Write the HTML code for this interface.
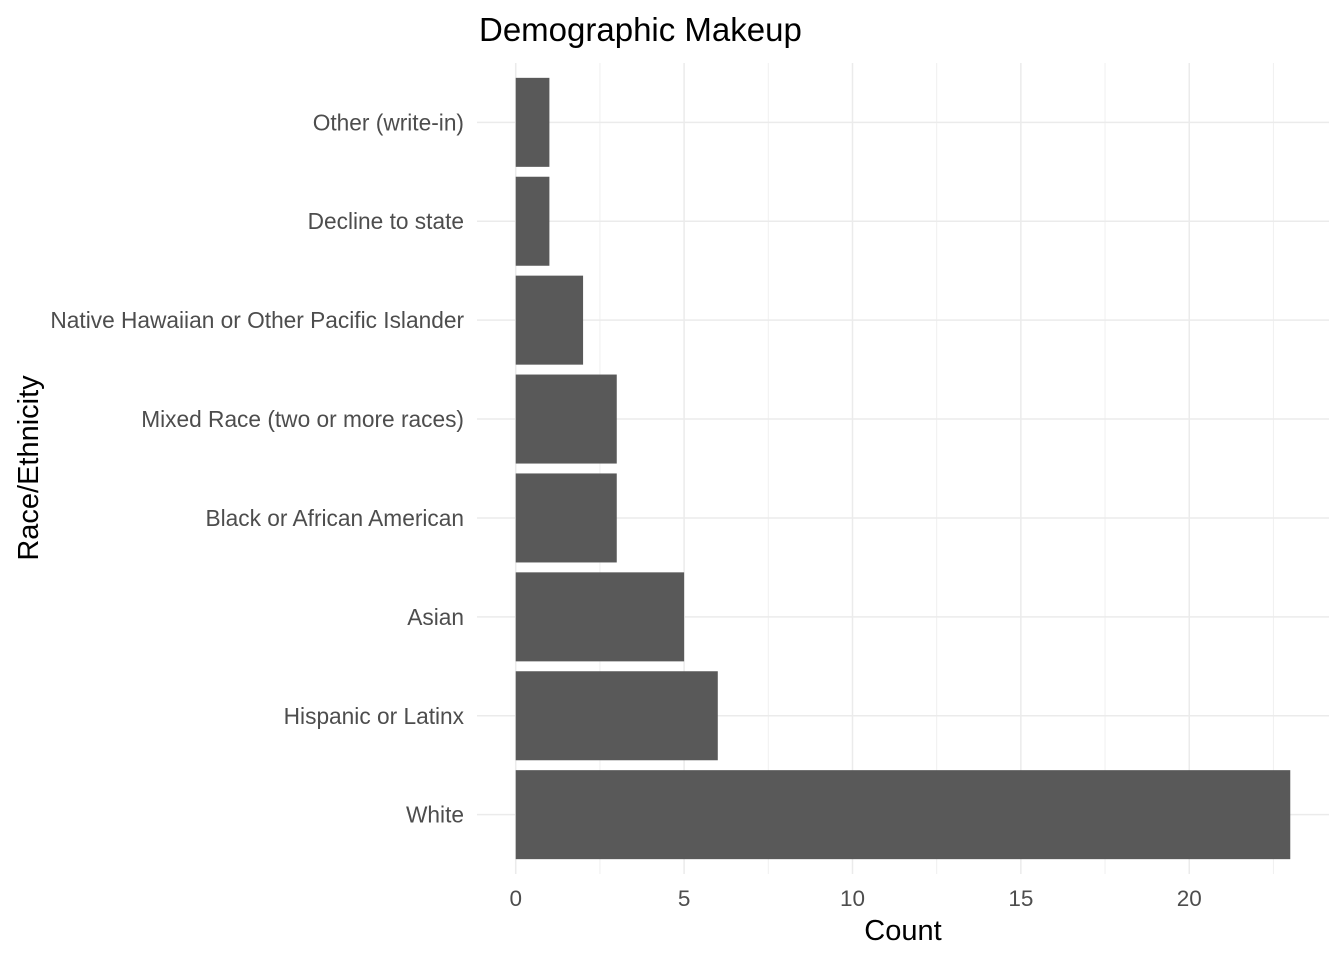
<!DOCTYPE html>
<html><head><meta charset="utf-8"><style>
body{margin:0;background:#fff;font-family:"Liberation Sans",Arial,sans-serif}
</style></head><body>
<svg id="chart" width="1344" height="960" xmlns="http://www.w3.org/2000/svg" font-family="Liberation Sans, Arial, sans-serif">
<text x="479" y="41" font-size="33" fill="#000">Demographic Makeup</text>
<text x="903" y="940" font-size="29" text-anchor="middle" fill="#000">Count</text>
<text transform="translate(38,468) rotate(-90)" font-size="29" text-anchor="middle" fill="#000">Race/Ethnicity</text>
<g id="grid"></g><g id="bars"></g><g id="labels"></g>
</svg>
<script>
const categories=["White","Hispanic or Latinx","Asian","Black or African American","Mixed Race (two or more races)","Native Hawaiian or Other Pacific Islander","Decline to state","Other (write-in)"];
const counts=[23,6,5,3,3,2,1,1];
const xTicks=[0,5,10,15,20];
const xMinor=[2.5,7.5,12.5,17.5,22.5];
const NS="http://www.w3.org/2000/svg";
const pl=477,pr=1329,pt=63,pb=874;
const xmax=Math.max(...counts);
const x0=-xmax*0.05,x1=xmax*1.05;
const X=v=>pl+(v-x0)/(x1-x0)*(pr-pl);
const n=categories.length,step=(pb-pt)/(n+0.2);
const Y=i=>pb-(0.6+i)*step;
function mk(t,a,p){const e=document.createElementNS(NS,t);for(const k in a)e.setAttribute(k,a[k]);p.appendChild(e);return e;}
const g=document.getElementById('grid'),b=document.getElementById('bars'),l=document.getElementById('labels');
xMinor.forEach(v=>{if(X(v)>pr)return;const e=mk('line',{x1:X(v),x2:X(v),y1:pt,y2:pb,stroke:'#f0f0f0','stroke-width':1},g);

});
xTicks.forEach(v=>{const e=mk('line',{x1:X(v),x2:X(v),y1:pt,y2:pb,stroke:'#ebebeb','stroke-width':1.5},g);


const t=mk('text',{x:X(v),y:906,'font-size':22.5,'text-anchor':'middle',fill:'#4d4d4d'},l);t.textContent=v;

});
categories.forEach((c,i)=>{const e=mk('line',{x1:pl,x2:pr,y1:Y(i),y2:Y(i),stroke:'#ebebeb','stroke-width':1.5},g);


const r=mk('rect',{x:X(0),y:Y(i)-step*0.45,width:X(counts[i])-X(0),height:step*0.9,fill:'#595959'},b);


const t=mk('text',{x:464,y:Y(i)+8,'font-size':22.7,'text-anchor':'end',fill:'#4d4d4d'},l);t.textContent=c;

});
</script>
</body></html>
